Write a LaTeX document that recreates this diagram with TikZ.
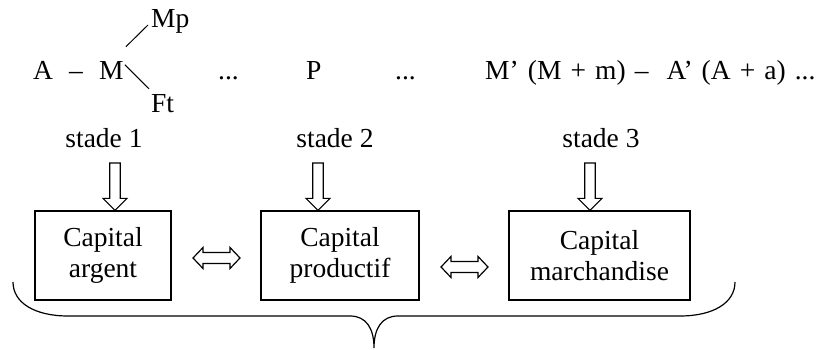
\documentclass[tikz,border=0pt]{standalone}
\usepackage{fontspec}
\setmainfont{Liberation Serif}
\usetikzlibrary{calc}
\tikzset{>=latex}
\tikzset{
  txt/.style={inner sep=0pt, font=\fontsize{27.5}{31}\selectfont},
  capbox/.style={draw, line width=1.2pt, align=center, inner sep=0pt, minimum height=89pt, font=\fontsize{27.5}{31}\selectfont},
  hollowdown/.style={line width=1.2pt, to path={let \p1=(\tikztostart), \p2=(\tikztotarget) in
    (\x1-5.3pt,\y1) -- (\x1+5.3pt,\y1) -- (\x1+5.3pt,\y2+12pt) -- (\x1+12pt,\y2+12pt) -- (\x1,\y2)
    -- (\x1-12pt,\y2+12pt) -- (\x1-5.3pt,\y2+12pt) -- cycle}},
  hollowboth/.style={line width=1.2pt, to path={let \p1=(\tikztostart), \p2=(\tikztotarget) in
    (\x1,\y1) -- (\x1+10pt,\y1+10.5pt) -- (\x1+10pt,\y1+5.5pt) -- (\x2-10pt,\y1+5.5pt) -- (\x2-10pt,\y1+10.5pt)
    -- (\x2,\y1) -- (\x2-10pt,\y1-10.5pt) -- (\x2-10pt,\y1-5.5pt) -- (\x1+10pt,\y1-5.5pt) -- (\x1+10pt,\y1-10.5pt) -- cycle}}
}
\begin{document}
\begin{tikzpicture}[x=1pt,y=1pt]
    \fill[white] (0,0) rectangle (825,350);
    \node[txt, anchor=base west] (A) at (33,270) {A};
    \node[txt, anchor=base west] (dash) at (69,270) {–};
    \node[txt, anchor=base west] (M) at (99,270) {M};
    \node[txt, anchor=base west] (Mp) at (151,322) {Mp};
    \node[txt, anchor=base west] (Ft) at (151,237) {Ft};
    \draw[line width=1pt] ([shift={(2,15)}]M.north east) -- ([shift={(-3,3)}]Mp.base west);
    \draw[line width=1pt] ([shift={(1,-3)}]M.north east) -- ([shift={(-2,6)}]Ft.north west);
    \node[txt, anchor=base west] (dotsa) at (218,270) {...};
    \node[txt, anchor=base west] (P) at (306,270) {P};
    \node[txt, anchor=base west] (dotsb) at (395,270) {...};
    \node[txt, anchor=base west] (Mprime) at (485,270) {\spaceskip=0.33em M’ (M + m) –\ \ A’ (A + a) ...};
    \node[txt, anchor=base] (s1) at (104,202) {stade 1};
    \node[txt, anchor=base] (s2) at (335,202) {stade 2};
    \node[txt, anchor=base] (s3) at (601,202) {stade 3};
    \node[capbox, minimum width=136pt] (b1) at (103,94.5) {Capital\\argent};
    \node[capbox, minimum width=158pt] (b2) at (340,94.5) {Capital\\productif};
    \node[capbox, minimum width=181pt] (b3) at (599.5,94.5) {Capital\\marchandise};
    \coordinate (a1) at (115,187);
    \coordinate (a2) at (318,187);
    \coordinate (a3) at (590,187);
    \draw[hollowdown] (a1) to (a1 |- b1.north);
    \draw[hollowdown] (a2) to (a2 |- b2.north);
    \draw[hollowdown] (a3) to (a3 |- b3.north);
    \coordinate (d1a) at (193,92);
    \coordinate (d1b) at (240,92);
    \coordinate (d2a) at (441,83);
    \coordinate (d2b) at (488,83);
    \draw[hollowboth] (d1a) to (d1b);
    \draw[hollowboth] (d2a) to (d2b);
    \draw[line width=1.2pt] (13,68) .. controls (13,47) and (35,34) .. (68,34) -- (350,34)
        .. controls (366,34) and (374,22) .. (374,2) .. controls (374,22) and (382,34) .. (398,34)
        -- (680,34) .. controls (713,34) and (735,47) .. (735,68);
\end{tikzpicture}
\end{document}
